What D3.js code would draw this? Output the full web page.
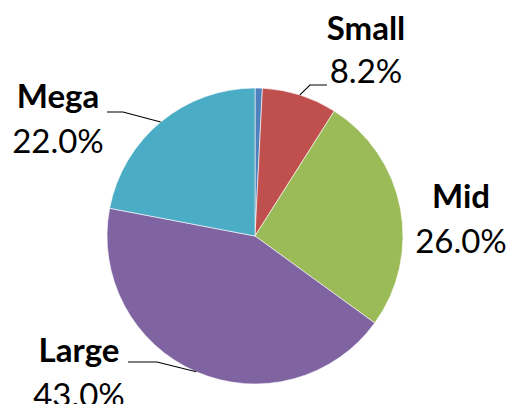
<!DOCTYPE html>
<html><head><meta charset="utf-8">
<script src="https://cdn.jsdelivr.net/npm/d3@7"></script>
<style>html,body{margin:0;padding:0;background:#fff;}svg{display:block;}</style>
</head><body>
<svg id="c" width="510" height="404"></svg>
<script>
const categories = ["Micro", "Small", "Mid", "Large", "Mega"];
const values = [0.8, 8.2, 26.0, 43.0, 22.0];
const colors = ["#4F81BD", "#C0504D", "#9BBB59", "#8064A2", "#4BACC6"];
const labelTexts = ["", "Small", "Mid", "Large", "Mega"];
const pctTexts = ["", "8.2%", "26.0%", "43.0%", "22.0%"];

const W = 510, H = 404, cx = 255, cy = 236, R = 148;
const svg = d3.select("#c");
const g = svg.append("g").attr("transform", `translate(${cx},${cy})`);
const data = categories.map((c, i) => ({c, v: values[i], i}));
const pie = d3.pie().value(d => d.v).sort(null);
const arcs = pie(data);
const arc = d3.arc().innerRadius(0).outerRadius(R);
const edge = d3.arc().innerRadius(R).outerRadius(R);

g.selectAll("path.s").data(arcs).join("path")
  .attr("class", "s").attr("d", arc)
  .attr("fill", d => colors[d.data.i])
  .attr("stroke", "#fff").attr("stroke-width", 0.6);

// label layout (absolute positions): [centerX, baseline1, baseline2, leader elbow x, leader end x, leader y]
const layout = {
  1: {x: 366, y1: 40, y2: 83, ex: 310, lx: 327, ly: 85},
  2: {x: 461, y1: 208, y2: 253},
  3: {x: 79, y1: 362, y2: 407, ex: 157, lx: 128, ly: 362},
  4: {x: 58, y1: 108, y2: 153, ex: 123, lx: 107, ly: 112}
};
const font = "Lato, 'Open Sans', sans-serif";
arcs.forEach(a => {
  const L = layout[a.data.i];
  if (!L) return;
  if (L.ex !== undefined) {
    const p = edge.centroid(a);
    const px = p[0] + cx, py = p[1] + cy;
    svg.append("polyline")
      .attr("points", `${px},${py} ${L.ex},${L.ly} ${L.lx},${L.ly}`)
      .attr("fill", "none").attr("stroke", "#000").attr("stroke-width", 1.1);
  }
  svg.append("text").attr("x", L.x).attr("y", L.y1).attr("text-anchor", "middle")
    .attr("font-family", font).attr("font-weight", 700).attr("font-size", 33)
    .attr("fill", "#000").text(labelTexts[a.data.i]);
  svg.append("text").attr("x", L.x).attr("y", L.y2).attr("text-anchor", "middle")
    .attr("font-family", font).attr("font-weight", 400).attr("font-size", 33)
    .attr("fill", "#000").text(pctTexts[a.data.i]);
});
</script>
</body></html>
